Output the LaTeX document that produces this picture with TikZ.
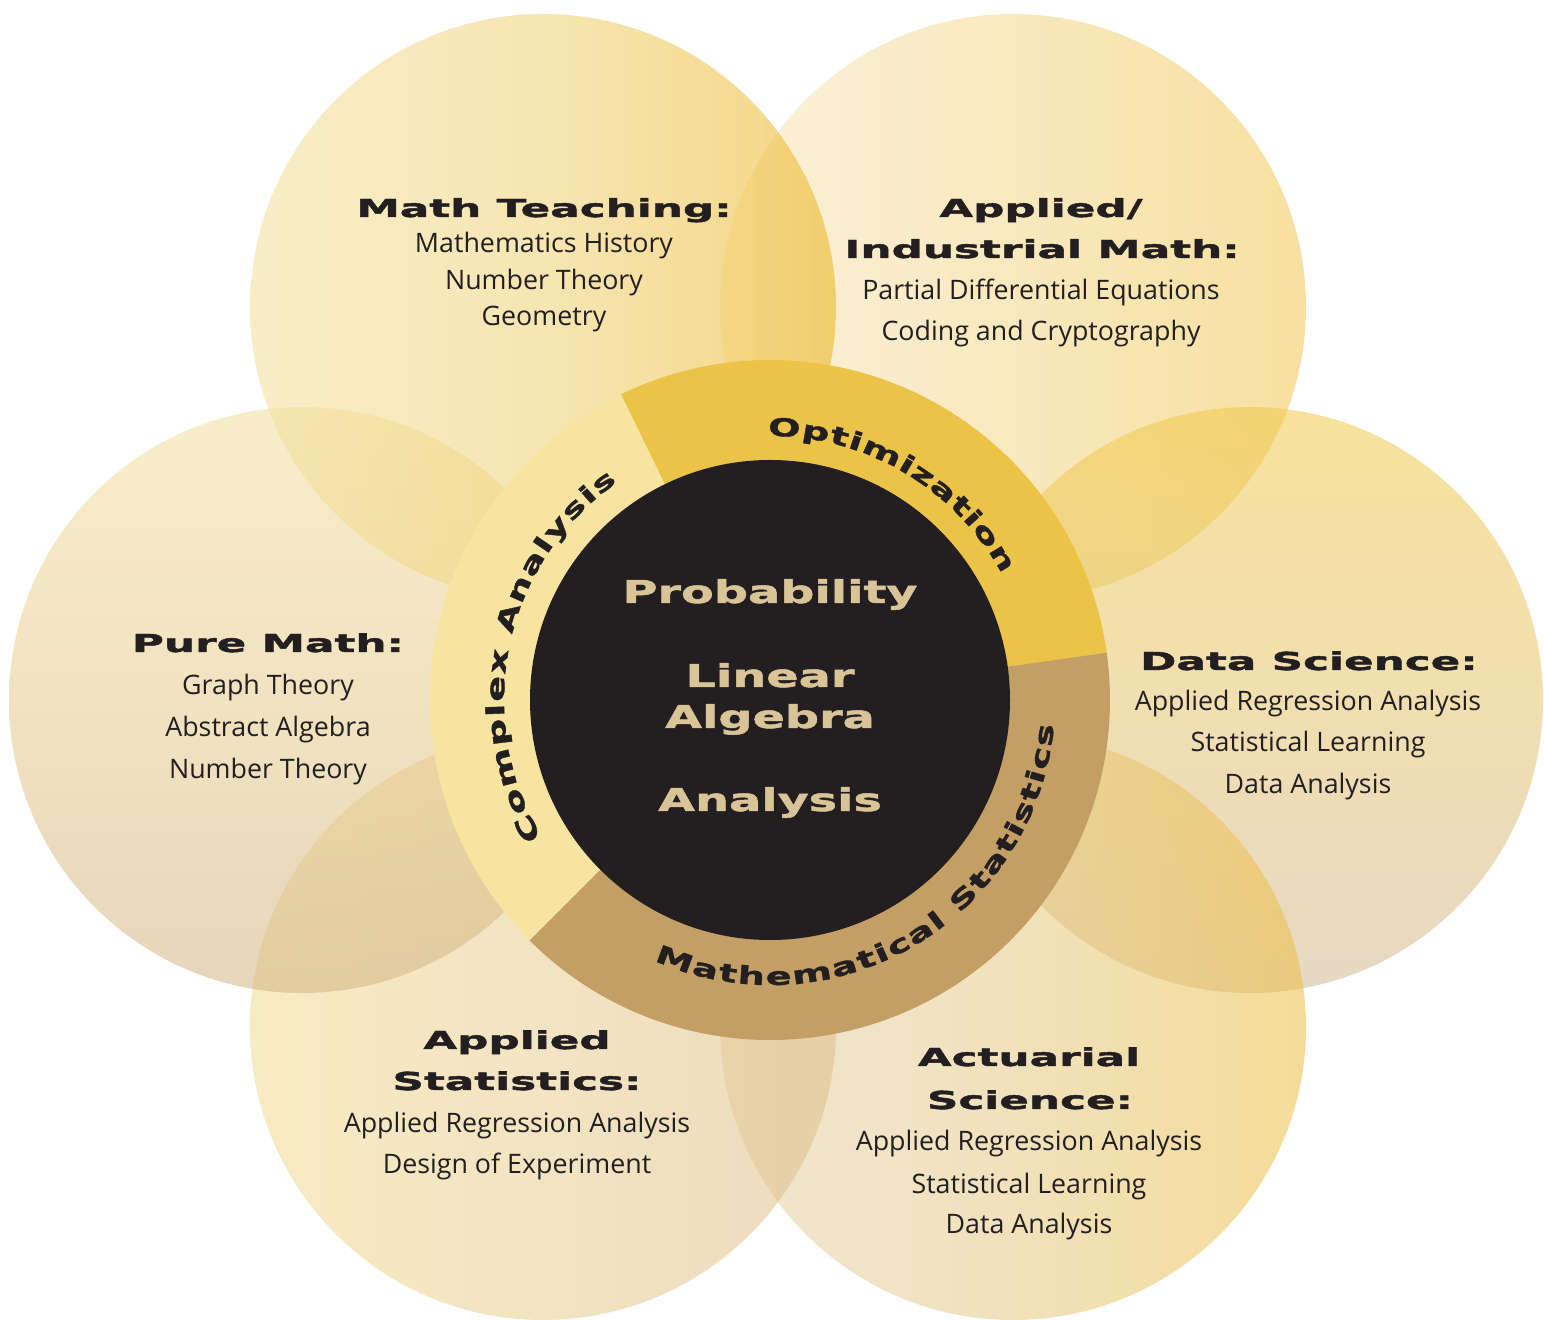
\documentclass[tikz,border=0pt]{standalone}
\usepackage{fontspec}
\setmainfont{Open Sans}
\newfontfamily\widefont{DejaVu Sans}[UprightFont={* Bold}, FakeStretch=1.77, FakeBold=1.8]
\newfontfamily\ringfontfam{DejaVu Sans}[UprightFont={* Bold}, FakeStretch=1.55, FakeBold=1.4]
\newfontfamily\corefontfam{DejaVu Sans}[UprightFont={* Bold}, FakeStretch=1.52, FakeBold=1.6]
\usetikzlibrary{decorations.text}
\newcommand\ringtxt{\ringfontfam\fontsize{12.35pt}{14pt}\selectfont}
\definecolor{ink}{HTML}{231F20}
\definecolor{coretxt}{HTML}{D8C497}
\definecolor{optc}{HTML}{EAC347}
\definecolor{cplxc}{HTML}{F7E4A1}
\definecolor{statc}{HTML}{C39F65}
\definecolor{corec}{HTML}{231F20}
% petal colours (painted at 55% opacity)
\definecolor{tlL}{HTML}{F4E09B}\definecolor{tlM}{HTML}{F1D275}\definecolor{tlR}{HTML}{EBB41C}
\definecolor{trL}{HTML}{F8E7BE}\definecolor{trM}{HTML}{F4D789}\definecolor{trR}{HTML}{F1C752}
\definecolor{lT}{HTML}{F4E09F}\definecolor{lM}{HTML}{E7CC8C}\definecolor{lB}{HTML}{D2B485}
\definecolor{rT}{HTML}{F1CA4B}\definecolor{rM}{HTML}{E6C56F}\definecolor{rB}{HTML}{D3B894}
\definecolor{blL}{HTML}{F2DB92}\definecolor{blM}{HTML}{E9CE90}\definecolor{blR}{HTML}{DDBF89}
\definecolor{brL}{HTML}{E4D0AA}\definecolor{brM}{HTML}{E7CA85}\definecolor{brR}{HTML}{EDBF44}
\tikzset{
  petal/.style={opacity=0.55},
  ttl/.style={font=\widefont\fontsize{12.35pt}{14pt}\selectfont, text=ink, anchor=base, inner sep=0pt},
  body/.style={font=\fontsize{13.4pt}{15pt}\selectfont, text=ink, anchor=base, inner sep=0pt},
  core/.style={font=\corefontfam\fontsize{15.7pt}{18pt}\selectfont, text=coretxt, anchor=base, inner sep=0pt},
  ringlabel/.style={decorate, decoration={text along path, text={|\ringtxt|#1}, text align={fit to path}, text color=ink}}
}
\begin{document}
\begin{tikzpicture}[x=0.5pt,y=0.5pt]
\useasboundingbox (0,0) rectangle (1544,1319);
\fill[white] (0,0) rectangle (1544,1319);
\coordinate (C) at (770,619);
\coordinate (pTL) at (543,1012);
\coordinate (pTR) at (1013,1012);
\coordinate (pL) at (302,619);
\coordinate (pR) at (1250,619);
\coordinate (pBL) at (543,292);
\coordinate (pBR) at (1013,292);
% petals
\shade[petal, left color=trL, right color=trR, middle color=trM] (pTR) circle[radius=146.5pt];
\shade[petal, top color=rT, bottom color=rB, middle color=rM] (pR) circle[radius=146.5pt];
\shade[petal, left color=brL, right color=brR, middle color=brM] (pBR) circle[radius=146.5pt];
\shade[petal, left color=blL, right color=blR, middle color=blM] (pBL) circle[radius=146.5pt];
\shade[petal, top color=lT, bottom color=lB, middle color=lM] (pL) circle[radius=146.5pt];
\shade[petal, left color=tlL, right color=tlR, middle color=tlM] (pTL) circle[radius=146.5pt];
% ring
\fill[optc] (C) -- ++(8:170pt) arc[start angle=8, end angle=116, radius=170pt] -- cycle;
\fill[cplxc] (C) -- ++(116:170pt) arc[start angle=116, end angle=225, radius=170pt] -- cycle;
\fill[statc] (C) -- ++(225:170pt) arc[start angle=225, end angle=368, radius=170pt] -- cycle;
\fill[corec] (C) circle[radius=120pt];
% ring labels
\path (C) ++(90.5:132pt) coordinate (optS);
\path (C) ++(211:133pt) coordinate (cpxS);
\path (C) ++(246:142.5pt) coordinate (msS);
\path[ringlabel=Optimization] (optS) arc[start angle=90.5, end angle=28.5, radius=132pt];
\path[ringlabel=Complex Analysis] (cpxS) arc[start angle=211, end angle=125, radius=133pt];
\path[ringlabel=Mathematical Statistics] (msS) arc[start angle=246, end angle=355, radius=142.5pt];
% core
\node[core] (c1) at (770,716) {Probability};
\node[core] (c2) at (770,632) {Linear};
\node[core] (c3) at (770,591) {Algebra};
\node[core] (c4) at (770,508) {Analysis};
% top left
\node[ttl] (tl0) at (544,1102) {Math Teaching:};
\node[body] (tl1) at (544,1066) {Mathematics History};
\node[body] (tl2) at (544,1029) {Number Theory};
\node[body] (tl3) at (544,993) {Geometry};
% top right
\node[ttl] (tr0) at (1041,1102) {Applied/};
\node[ttl] (tr1) at (1042,1061) {Industrial Math:};
\node[body] (tr2) at (1041,1019) {Partial Differential Equations};
\node[body] (tr3) at (1041,978) {Coding and Cryptography};
% left
\node[ttl] (l0) at (268,667) {Pure Math:};
\node[body] (l1) at (268,624) {Graph Theory};
\node[body] (l2) at (268,582) {Abstract Algebra};
\node[body] (l3) at (268,540) {Number Theory};
% right
\node[ttl] (r0) at (1309,649) {Data Science:};
\node[body] (r1) at (1308,608) {Applied Regression Analysis};
\node[body] (r2) at (1308,567) {Statistical Learning};
\node[body] (r3) at (1308,525) {Data Analysis};
% bottom left
\node[ttl] (bl0) at (517,270) {Applied};
\node[ttl] (bl1) at (517,229) {Statistics:};
\node[body] (bl2) at (517,186) {Applied Regression Analysis};
\node[body] (bl3) at (517,145) {Design of Experiment};
% bottom right
\node[ttl] (br0) at (1029,253) {Actuarial};
\node[ttl] (br1) at (1030,210) {Science:};
\node[body] (br2) at (1029,169) {Applied Regression Analysis};
\node[body] (br3) at (1029,126) {Statistical Learning};
\node[body] (br4) at (1029,85) {Data Analysis};
\end{tikzpicture}
\end{document}
